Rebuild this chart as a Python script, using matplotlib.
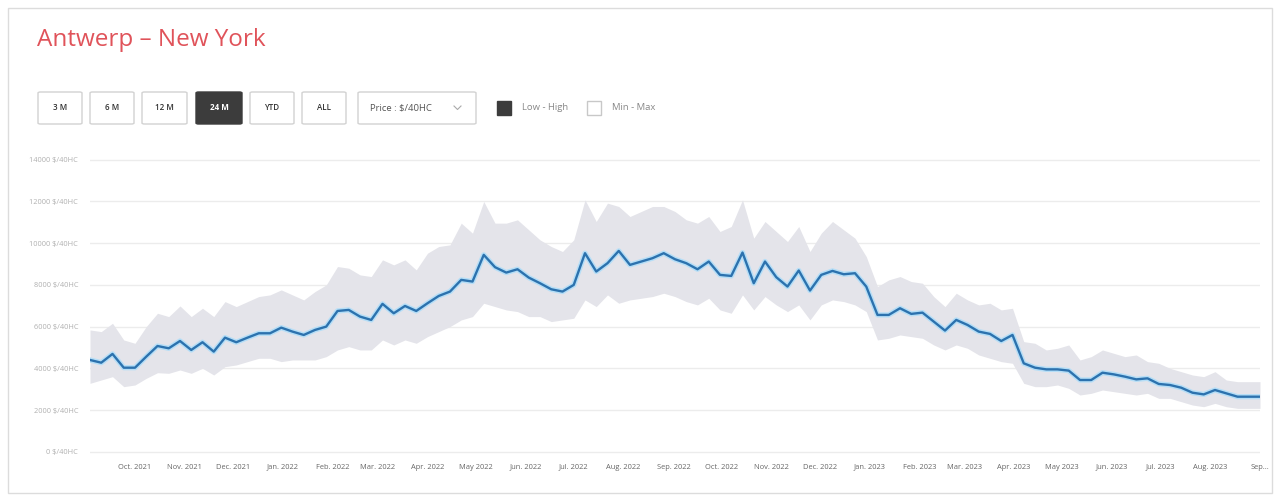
import numpy as np
import pandas as pd
import matplotlib
matplotlib.use("Agg")
import matplotlib.pyplot as plt
from matplotlib.patches import FancyBboxPatch, Rectangle
from matplotlib.lines import Line2D

plt.rcParams["font.family"] = ["Open Sans", "DejaVu Sans"]

# weekly rates, $/40HC
mid = [4400, 4270, 4690, 4030, 4030, 4560, 5070, 4960, 5310, 4880, 5250, 4800, 5470, 5250,
       5470, 5680, 5680, 5950, 5760, 5600, 5840, 6000, 6750, 6800, 6480, 6320, 7090,
       6640, 6990, 6750, 7120, 7470, 7680, 8240, 8160, 9440, 8850, 8590, 8750, 8350,
       8080, 7790, 7680, 8000, 9520, 8640, 9040, 9630, 8960, 9120, 9280, 9520, 9230,
       9040, 8750, 9120, 8480, 8430, 9550, 8080, 9120, 8370, 7920, 8690, 7730, 8480,
       8670, 8510, 8560, 7920, 6560, 6560, 6880, 6610, 6670, 6240, 5810, 6320, 6080,
       5760, 5650, 5310, 5600, 4240, 4030, 3950, 3950, 3890, 3440, 3440, 3790, 3710,
       3600, 3470, 3520, 3250, 3200, 3070, 2830, 2750, 2960, 2800, 2640, 2640, 2640]
high = [5840, 5760, 6160, 5360, 5200, 6000, 6640, 6480, 6990, 6480, 6880, 6480, 7200, 6960,
        7200, 7440, 7520, 7760, 7520, 7280, 7680, 8000, 8880, 8800, 8480, 8400, 9200,
        8960, 9200, 8720, 9520, 9840, 9920, 10960, 10480, 12000, 10960, 10960, 11120, 10640,
        10160, 9840, 9600, 10160, 12080, 11040, 11920, 11760, 11280, 11520, 11760, 11760, 11520,
        11120, 10960, 11280, 10560, 10800, 12080, 10240, 11040, 10560, 10080, 10800, 9600, 10480,
        11040, 10640, 10240, 9360, 7920, 8240, 8400, 8160, 8080, 7440, 6960, 7600, 7280,
        7040, 7120, 6800, 6880, 5280, 5200, 4880, 4960, 5120, 4400, 4560, 4880, 4720,
        4560, 4640, 4320, 4240, 4000, 3840, 3680, 3600, 3840, 3440, 3360, 3360, 3360]
low = [3280, 3440, 3600, 3120, 3200, 3520, 3790, 3760, 3920, 3760, 4000, 3680, 4080, 4160,
       4320, 4480, 4480, 4320, 4400, 4400, 4400, 4560, 4880, 5040, 4880, 4880, 5360,
       5120, 5360, 5200, 5520, 5760, 6000, 6320, 6480, 7120, 6960, 6800, 6720, 6480,
       6480, 6240, 6320, 6400, 7280, 6960, 7520, 7120, 7280, 7360, 7440, 7600, 7440,
       7200, 7040, 7360, 6800, 6640, 7520, 6800, 7440, 7040, 6720, 7040, 6320, 7040,
       7280, 7200, 7040, 6720, 5360, 5440, 5600, 5520, 5440, 5120, 4880, 5120, 4960,
       4640, 4480, 4320, 4240, 3280, 3120, 3120, 3200, 3040, 2720, 2800, 2960, 2880,
       2800, 2720, 2800, 2560, 2560, 2400, 2240, 2160, 2320, 2160, 2080, 2080, 2080]
weeks = pd.date_range("2021-09-03", periods=len(mid), freq="7D")

month_ticks = pd.date_range("2021-10-01", "2023-09-01", freq="MS")
month_labels = ["Oct. 2021", "Nov. 2021", "Dec. 2021", "Jan. 2022", "Feb. 2022", "Mar. 2022",
                "Apr. 2022", "May 2022", "Jun. 2022", "Jul. 2022", "Aug. 2022", "Sep. 2022",
                "Oct. 2022", "Nov. 2022", "Dec. 2022", "Jan. 2023", "Feb. 2023", "Mar. 2023",
                "Apr. 2023", "May 2023", "Jun. 2023", "Jul. 2023", "Aug. 2023", "Sep..."]
y_ticks = [0, 2000, 4000, 6000, 8000, 10000, 12000, 14000]

buttons = ["3 M", "6 M", "12 M", "24 M", "YTD", "ALL"]
active_button = "24 M"

W, H = 1279, 500
fig = plt.figure(figsize=(W / 100, H / 100), dpi=100)


def fx(px):
    return px / W


def fy(py):
    return 1 - py / H


# card frame
fig.add_artist(Rectangle((fx(8), fy(493)), fx(1264), 485 / H, transform=fig.transFigure,
                         fill=False, ec="#dcdcdc", lw=1))

fig.text(fx(37), fy(40), "Antwerp \u2013 New York", color="#e0535a", fontsize=17.5,
         va="center", ha="left")

# range buttons
bx = [38, 90, 142, 196, 250, 302]
bw = [44, 44, 45, 46, 44, 44]
for x0, w, lab in zip(bx, bw, buttons):
    on = lab == active_button
    fig.add_artist(FancyBboxPatch((fx(x0), fy(124)), fx(w), 32 / H,
                                  boxstyle="round,pad=0,rounding_size=0.002",
                                  transform=fig.transFigure,
                                  fc="#3c3c3c" if on else "white",
                                  ec="#3c3c3c" if on else "#d2d2d2", lw=1))
    fig.text(fx(x0 + w / 2), fy(108), lab, ha="center", va="center", fontsize=5.8,
             color="white" if on else "#333333", weight="bold" if on else "semibold")

# dropdown
fig.add_artist(FancyBboxPatch((fx(358), fy(124)), fx(118), 32 / H,
                              boxstyle="round,pad=0,rounding_size=0.002",
                              transform=fig.transFigure, fc="white", ec="#d2d2d2", lw=1))
fig.text(fx(370), fy(108), "Price : $/40HC", ha="left", va="center", fontsize=6.8,
         color="#555555")
fig.add_artist(Line2D([fx(454), fx(457.5), fx(461)], [fy(106), fy(109.5), fy(106)],
                      transform=fig.transFigure, color="#aaaaaa", lw=0.8))

# checkboxes
fig.add_artist(Rectangle((fx(497), fy(115)), fx(14), 14 / H, transform=fig.transFigure,
                         fc="#3c3c3c", ec="#3c3c3c", lw=1))
fig.text(fx(522), fy(108), "Low - High", ha="left", va="center", fontsize=6.8, color="#888888")
fig.add_artist(Rectangle((fx(587), fy(115)), fx(14), 14 / H, transform=fig.transFigure,
                         fc="white", ec="#c8c8c8", lw=1))
fig.text(fx(612), fy(108), "Min - Max", ha="left", va="center", fontsize=6.8, color="#888888")

# chart
ax = fig.add_axes([fx(90), fy(458), fx(1170), 304.5 / H])
ax.fill_between(weeks, low, high, color="#e4e4ea", lw=0, zorder=1)
ax.plot(weeks, mid, color="#b5def7", lw=3.8, solid_joinstyle="round", zorder=2)
ax.plot(weeks, mid, color="#2c72ae", lw=1.7, solid_joinstyle="round", zorder=3)

ax.set_xlim(weeks[0], weeks[-1])
ax.set_ylim(-300, 14300)
ax.set_yticks(y_ticks)
ax.set_yticklabels([f"{v} $/40HC" for v in y_ticks])
ax.set_xticks(month_ticks)
ax.set_xticklabels(month_labels)
ax.tick_params(axis="y", length=0, pad=8.5, labelsize=5.3, labelcolor="#b0b0b0")
ax.tick_params(axis="x", length=0, pad=4, labelsize=5.4, labelcolor="#666666")
ax.grid(axis="y", color="#ececec", lw=1)
ax.set_axisbelow(True)
for s in ax.spines.values():
    s.set_visible(False)

fig.savefig("out.png", dpi=100)
